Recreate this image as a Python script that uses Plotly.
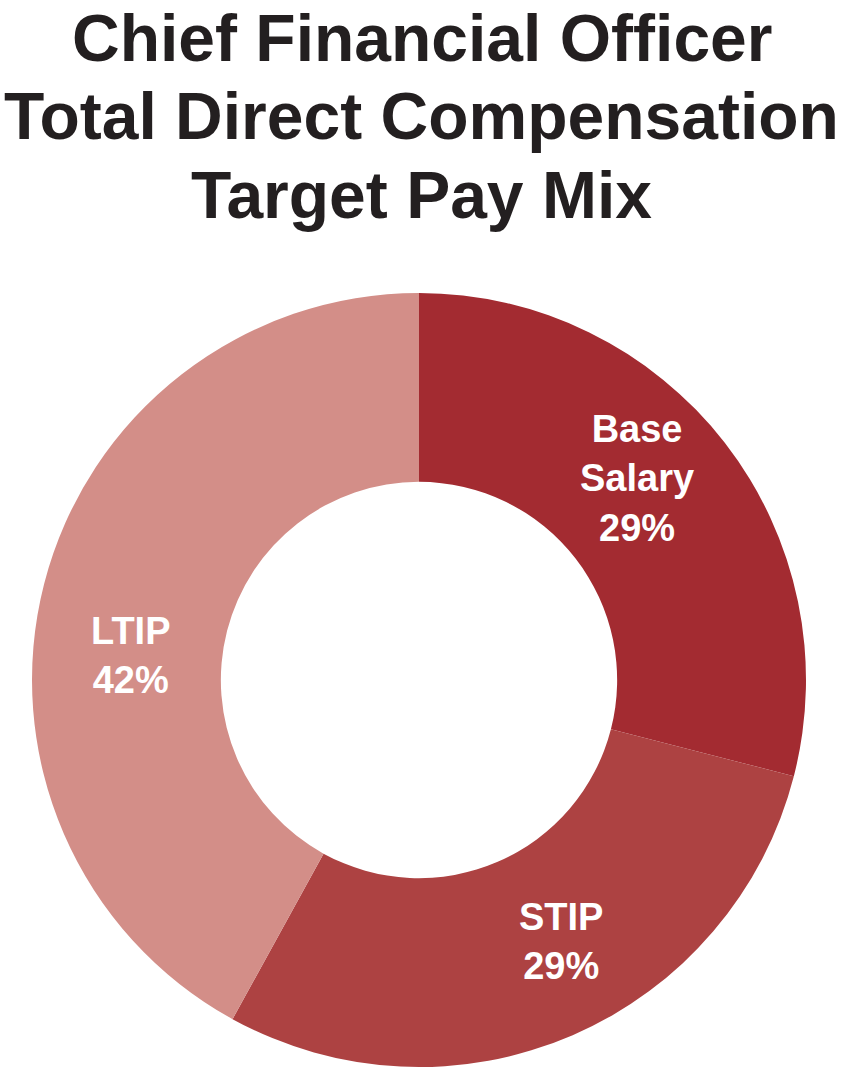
import plotly.graph_objects as go

# ---- data ----
categories = ["Base Salary", "STIP", "LTIP"]
display_labels = ["Base<br>Salary", "STIP", "LTIP"]
values = [29, 29, 42]
title_lines = ["Chief Financial Officer", "Total Direct Compensation", "Target Pay Mix"]

# ---- style ----
slice_colors = ["#A32B31", "#AD4242", "#D38E88"]
W, H = 843, 1067
FONT = "Liberation Sans, Arial, Helvetica, sans-serif"

fig = go.Figure()
fig.add_trace(go.Pie(
    labels=categories,
    values=values,
    sort=False,
    direction="clockwise",
    rotation=0,
    hole=0.512,
    marker=dict(colors=slice_colors, line=dict(width=0)),
    textinfo="none",
    hoverinfo="label+percent",
    showlegend=False,
    domain=dict(x=[0.03796, 0.95611], y=[0.0, 0.7254]),
))

# title lines (centre y in px from top)
title_y_px = [38, 116, 195]
for line, ypx in zip(title_lines, title_y_px):
    fig.add_annotation(
        text=f"<b>{line}</b>", x=0.5, y=1 - ypx / H, xref="paper", yref="paper",
        xanchor="center", yanchor="middle", showarrow=False, borderpad=0,
        font=dict(family=FONT, size=66, color="#231F20"),
    )

# slice labels (centre px positions)
label_pos_px = [(637, 478), (561, 941), (131, 655)]
for lab, val, (xp, yp) in zip(display_labels, values, label_pos_px):
    fig.add_annotation(
        text=f"<b>{lab}<br>{val}%</b>", x=xp / W, y=1 - yp / H,
        xref="paper", yref="paper", xanchor="center", yanchor="middle",
        showarrow=False, align="center",
        font=dict(family=FONT, size=38, color="white"),
    )

fig.update_layout(
    width=W, height=H,
    margin=dict(l=0, r=0, t=0, b=0),
    paper_bgcolor="white", plot_bgcolor="white",
)

fig.write_html("out.html")
